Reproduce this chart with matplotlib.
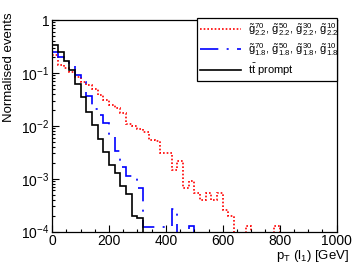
import matplotlib
matplotlib.use("Agg")
import matplotlib.pyplot as plt
import numpy as np
from matplotlib.lines import Line2D
from matplotlib.ticker import FixedLocator, FuncFormatter, MultipleLocator, LogLocator

plt.rcParams["font.family"] = ["Liberation Sans", "DejaVu Sans"]
plt.rcParams["mathtext.fontset"] = "custom"
plt.rcParams["mathtext.rm"] = "Liberation Sans"
plt.rcParams["mathtext.it"] = "Liberation Sans"
plt.rcParams["mathtext.bf"] = "Liberation Sans:bold"

# 50 bins of 20 GeV, 0..1000 GeV
bin_edges = list(range(0, 1020, 20))

gluino_22 = [
    0.22, 0.14, 0.123, 0.103, 0.084, 0.068, 0.059, 0.050, 0.038, 0.031,
    0.025, 0.022, 0.0176, 0.011, 0.0100, 0.0086, 0.0078, 0.0055, 0.0051, 0.0030,
    0.0030, 0.00148, 0.0022, 0.00066, 0.00091, 0.00054, 0.00040, 0.00054, 0.00040, 0.00054,
    0.00026, 0.00020, 0, 0, 0.00013, 0, 0, 0, 0, 0.00013,
    0, 0, 0, 0, 0, 0, 0, 0, 0, 0,
]
gluino_18 = [
    0.25, 0.20, 0.165, 0.137, 0.092, 0.068, 0.037, 0.021, 0.016, 0.0112,
    0.0068, 0.0033, 0.0017, 0.00114, 0.00105, 0.00066, 0.00012, 0.00012, 0.00012, 0.00012,
    0.00012, 0.00027, 0, 0, 0.00013, 0, 0, 0, 0, 0,
    0, 0, 0, 0, 0, 0, 0, 0, 0, 0,
    0, 0, 0, 0, 0, 0, 0, 0, 0, 0,
]
ttbar_prompt = [
    0.34, 0.25, 0.165, 0.115, 0.063, 0.035, 0.0186, 0.0105, 0.0056, 0.0032,
    0.0018, 0.0013, 0.00074, 0.00051, 0.00020, 0.000177, 0, 0, 0, 0,
    0, 0, 0, 0, 0, 0, 0, 0, 0, 0,
    0, 0, 0, 0, 0, 0, 0, 0, 0, 0,
    0, 0, 0, 0, 0, 0, 0, 0, 0, 0,
]

g = r"\tilde{\mathrm{g}}"
labels = [
    rf"${g}^{{70}}_{{2.2}},\,{g}^{{50}}_{{2.2}},\,{g}^{{30}}_{{2.2}},\,{g}^{{10}}_{{2.2}}$",
    rf"${g}^{{70}}_{{1.8}},\,{g}^{{50}}_{{1.8}},\,{g}^{{30}}_{{1.8}},\,{g}^{{10}}_{{1.8}}$",
    r"$\mathrm{t\bar{t}}$ prompt",
]

red_style = (0, (1.0, 1.2))
blue_style = (0, (11, 5, 1.2, 5))

fig = plt.figure(figsize=(3.55, 2.65), dpi=100)
ax = fig.add_axes([0.147, 0.126, 0.801, 0.7985])


def draw(vals, color, ls):
    v = np.asarray(vals, dtype=float)
    v = np.where(v > 0, v, 1e-9)
    ax.stairs(v, bin_edges, baseline=None, color=color, lw=1.2, linestyle=ls)


draw(gluino_22, "#ff0000", red_style)
draw(gluino_18, "#0000ff", blue_style)
draw(ttbar_prompt, "black", "-")

ax.set_yscale("log")
ax.set_xlim(0, 1000)
ax.set_ylim(1e-4, 1)

ax.xaxis.set_major_locator(MultipleLocator(200))
ax.xaxis.set_minor_locator(MultipleLocator(50))
ax.yaxis.set_major_locator(FixedLocator([1e-4, 1e-3, 1e-2, 1e-1, 1]))
ax.yaxis.set_minor_locator(LogLocator(base=10, subs=np.arange(2, 10)))


def ylab(v, pos):
    if v >= 1:
        return "1"
    return r"$10^{%d}$" % int(round(np.log10(v)))


ax.yaxis.set_major_formatter(FuncFormatter(ylab))
ax.tick_params(which="both", direction="in", top=False, right=False, labelsize=10)
ax.tick_params(which="major", length=5, width=0.8)
ax.tick_params(which="minor", length=2.5, width=0.8)
ax.tick_params(axis="x", pad=1.5)
ax.tick_params(axis="y", pad=2)
for s in ax.spines.values():
    s.set_linewidth(0.9)

fig.text(0.985, 0.002, r"p$_{\mathrm{T}}$ (l$_{1}$) [GeV]", ha="right", va="bottom", fontsize=9.5)
fig.text(0.025, 0.955, "Normalised events", rotation=90, ha="center", va="top", fontsize=9.5)

handles = [
    Line2D([], [], color="#ff0000", lw=1.2, linestyle=red_style),
    Line2D([], [], color="#0000ff", lw=1.2, linestyle=blue_style),
    Line2D([], [], color="black", lw=1.2),
]
leg = ax.legend(handles, labels, loc="upper left", mode="expand",
                bbox_to_anchor=(0.508, 0.73, 0.492, 0.28), fontsize=8,
                handlelength=3.7, handletextpad=0.6, borderpad=0.3,
                labelspacing=0.3, fancybox=False, framealpha=1,
                edgecolor="black", borderaxespad=0)
leg.get_frame().set_linewidth(0.9)

fig.savefig("out.png", dpi=100)
